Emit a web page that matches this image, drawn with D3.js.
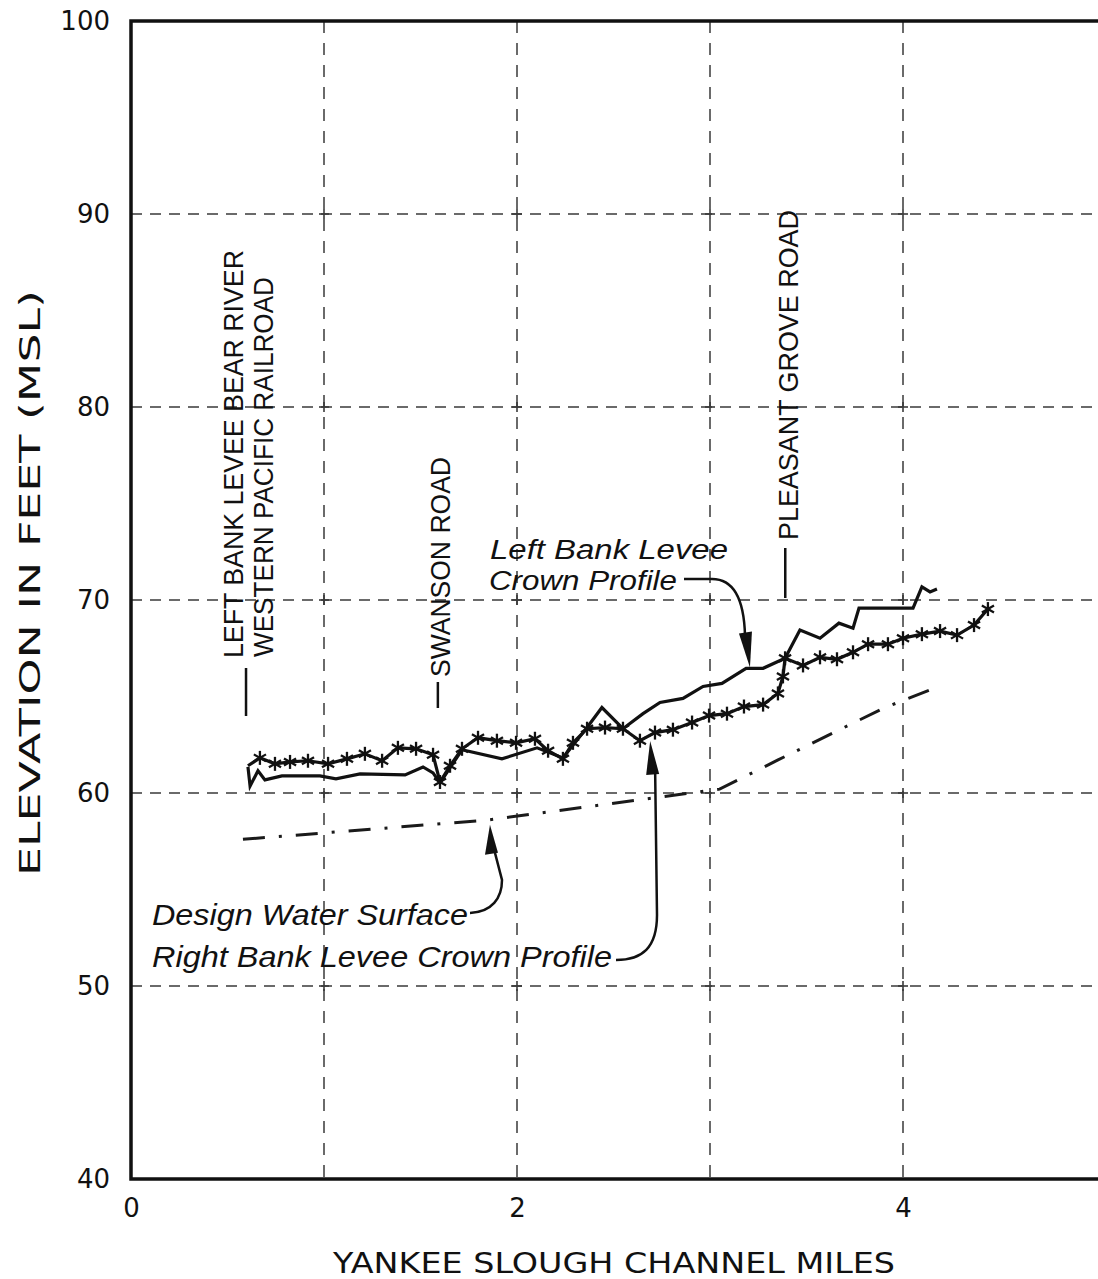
<!DOCTYPE html>
<html>
<head>
<meta charset="utf-8">
<script src="https://cdn.jsdelivr.net/npm/d3@7"></script>
<style>
  html, body { margin: 0; padding: 0; background: #fff; }
  svg { display: block; }
</style>
</head>
<body>
<svg id="chart" width="1098" height="1279"></svg>
<script>
// ---------------- DATA ----------------
const xTickValues = [0, 2, 4];
const xTickLabels = ["0", "2", "4"];
const yTickValues = [40, 50, 60, 70, 80, 90, 100];
const yTickLabels = ["40", "50", "60", "70", "80", "90", "100"];
const xGrid = [1, 2, 3, 4];
const yGrid = [50, 60, 70, 80, 90];

// Left Bank Levee Crown Profile (plain line): miles
const leftMiles = [0.606, 0.617, 0.658, 0.694, 0.782, 0.979, 1.062, 1.187, 1.420, 1.513, 1.565, 1.601,
  1.715, 1.922, 2.104, 2.238, 2.363, 2.440, 2.549, 2.653, 2.741, 2.860, 2.964, 3.062, 3.187, 3.275,
  3.389, 3.466, 3.570, 3.668, 3.741, 3.772, 4.052, 4.098, 4.140, 4.176];
const leftElev = [61.35, 60.36, 61.15, 60.68, 60.89, 60.89, 60.73, 60.99, 60.94, 61.35, 61.04, 60.52,
  62.24, 61.77, 62.34, 61.82, 63.39, 64.43, 63.33, 64.11, 64.69, 64.90, 65.52, 65.68, 66.46, 66.46,
  66.98, 68.44, 68.02, 68.80, 68.54, 69.58, 69.58, 70.68, 70.42, 70.57];

// Right Bank Levee Crown Profile (starred line)
const rightMiles = [0.606, 0.668, 0.746, 0.824, 0.917, 1.021, 1.119, 1.212, 1.301, 1.383, 1.477, 1.565,
  1.601, 1.653, 1.715, 1.798, 1.896, 1.995, 2.093, 2.161, 2.238, 2.290, 2.363, 2.456, 2.549, 2.637,
  2.715, 2.808, 2.907, 2.995, 3.088, 3.176, 3.275, 3.352, 3.378, 3.389, 3.482, 3.570, 3.658, 3.741,
  3.819, 3.922, 4.000, 4.098, 4.192, 4.280, 4.368, 4.440];
const rightElev = [61.41, 61.82, 61.51, 61.61, 61.67, 61.51, 61.77, 62.03, 61.67, 62.34, 62.29, 61.98,
  60.57, 61.41, 62.29, 62.86, 62.71, 62.60, 62.81, 62.19, 61.77, 62.60, 63.33, 63.39, 63.33, 62.71,
  63.13, 63.28, 63.65, 64.01, 64.11, 64.48, 64.58, 65.16, 66.04, 66.98, 66.61, 67.03, 66.93, 67.29,
  67.71, 67.71, 68.02, 68.23, 68.39, 68.18, 68.70, 69.53];

// Design Water Surface (dash-dot)
const designMiles = [0.58, 1.85, 2.45, 3.05, 3.35, 3.90, 4.18];
const designElev  = [57.6, 58.6, 59.4, 60.2, 61.7, 64.4, 65.5];

// Landmarks (mile positions)
const landmarkNames = ["LEFT BANK LEVEE BEAR RIVER", "WESTERN PACIFIC RAILROAD", "SWANSON ROAD", "PLEASANT GROVE ROAD"];
const landmarkMiles = [0.596, 0.596, 1.59, 3.39];

const xTitle = "YANKEE SLOUGH CHANNEL MILES";
const yTitle = "ELEVATION IN FEET (MSL)";

// ---------------- CHART ----------------
const svg = d3.select("#chart");
const x = d3.scaleLinear().domain([0, 5]).range([131, 1096]);
const y = d3.scaleLinear().domain([40, 100]).range([1179, 21]);

const gridColor = "#3a3a3a";
// grid
svg.append("g").selectAll("line").data(yGrid).join("line")
  .attr("x1", x(0)).attr("x2", 1098)
  .attr("y1", d => y(d)).attr("y2", d => y(d))
  .attr("stroke", gridColor).attr("stroke-width", 1.7)
  .attr("stroke-dasharray", "11,8");
svg.append("g").selectAll("line").data(xGrid).join("line")
  .attr("x1", d => x(d)).attr("x2", d => x(d))
  .attr("y1", y(100)).attr("y2", y(40))
  .attr("stroke", gridColor).attr("stroke-width", 1.5)
  .attr("stroke-dasharray", "12,10");
// small crosses at intersections
const crosses = [];
xGrid.forEach(gx => yGrid.forEach(gy => crosses.push([gx, gy])));
const cg = svg.append("g").attr("stroke", gridColor).attr("stroke-width", 1.6);
crosses.forEach(([gx, gy]) => {
  cg.append("line").attr("x1", x(gx) - 5).attr("x2", x(gx) + 5).attr("y1", y(gy)).attr("y2", y(gy));
  cg.append("line").attr("x1", x(gx)).attr("x2", x(gx)).attr("y1", y(gy) - 5).attr("y2", y(gy) + 5);
});

// frame
svg.append("path")
  .attr("d", `M1098,${y(100)} H${x(0)} V${y(40)} H1098`)
  .attr("fill", "none").attr("stroke", "#111").attr("stroke-width", 3.5);

// axes
const tickFont = "'DejaVu Sans', sans-serif";
const yAxis = d3.axisLeft(y).tickValues(yTickValues)
  .tickFormat((d, i) => yTickLabels[i]).tickSize(0).tickPadding(21);
const gy = svg.append("g").attr("transform", `translate(${x(0)},0)`).call(yAxis);
gy.select(".domain").remove();
gy.selectAll("text").attr("font-family", tickFont).attr("font-size", 26).attr("fill", "#111");

const xAxis = d3.axisBottom(x).tickValues(xTickValues)
  .tickFormat((d, i) => xTickLabels[i]).tickSize(0).tickPadding(20);
const gx = svg.append("g").attr("transform", `translate(0,${y(40)})`).call(xAxis);
gx.select(".domain").remove();
gx.selectAll("text").attr("font-family", tickFont).attr("font-size", 26).attr("fill", "#111");

// axis titles
svg.append("text").attr("x", 333).attr("y", 1273)
  .attr("font-family", tickFont).attr("font-size", 28).attr("fill", "#111")
  .attr("textLength", 562).attr("lengthAdjust", "spacingAndGlyphs")
  .text(xTitle);
svg.append("text").attr("transform", "translate(40,876) rotate(-90)")
  .attr("font-family", tickFont).attr("font-size", 28).attr("fill", "#111")
  .attr("textLength", 586).attr("lengthAdjust", "spacingAndGlyphs")
  .text(yTitle);

// lines
const line = d3.line().x(d => x(d[0])).y(d => y(d[1]));
const leftData = leftMiles.map((m, i) => [m, leftElev[i]]);
const rightData = rightMiles.map((m, i) => [m, rightElev[i]]);
const designData = designMiles.map((m, i) => [m, designElev[i]]);

svg.append("path").datum(designData).attr("d", line)
  .attr("fill", "none").attr("stroke", "#1a1a1a").attr("stroke-width", 3)
  .attr("stroke-dasharray", "22,14,3,14");

svg.append("path").datum(leftData).attr("d", line)
  .attr("fill", "none").attr("stroke", "#111").attr("stroke-width", 3.2)
  .attr("stroke-linejoin", "miter");

svg.append("path").datum(rightData).attr("d", line)
  .attr("fill", "none").attr("stroke", "#111").attr("stroke-width", 3.2)
  .attr("stroke-linejoin", "miter");

// star markers
const starG = svg.append("g").attr("stroke", "#111").attr("stroke-width", 2.3);
rightData.slice(1).forEach(d => {
  const cx = x(d[0]), cy = y(d[1]), r = 7;
  [90, 30, 150].forEach(a => {
    const rad = a * Math.PI / 180;
    starG.append("line")
      .attr("x1", cx - r * Math.cos(rad)).attr("y1", cy - r * Math.sin(rad))
      .attr("x2", cx + r * Math.cos(rad)).attr("y2", cy + r * Math.sin(rad));
  });
});

// landmark labels
const labFont = "'Liberation Sans', Arial, sans-serif";
const lm = [
  { i: 0, bx: 243, by: 658, len: 408, fs: 27 },
  { i: 1, bx: 273, by: 657, len: 380, fs: 27 },
  { i: 2, bx: 450, by: 677, len: 220, fs: 27 },
  { i: 3, bx: 798, by: 540, len: 330, fs: 27 }
];
lm.forEach(o => {
  svg.append("text")
    .attr("transform", `translate(${o.bx},${o.by}) rotate(-90)`)
    .attr("font-family", labFont).attr("font-size", o.fs).attr("fill", "#111")
    .attr("textLength", o.len).attr("lengthAdjust", "spacingAndGlyphs")
    .text(landmarkNames[o.i]);
});
// landmark tick lines
const lmLines = [
  { i: 0, y1: 668, y2: 716 },
  { i: 2, y1: 682, y2: 708 },
  { i: 3, y1: 548, y2: 598 }
];
lmLines.forEach(o => {
  svg.append("line")
    .attr("x1", x(landmarkMiles[o.i])).attr("x2", x(landmarkMiles[o.i]))
    .attr("y1", o.y1).attr("y2", o.y2)
    .attr("stroke", "#111").attr("stroke-width", 2.5);
});

// italic series labels
const itFont = "'Liberation Sans', Arial, sans-serif";
function itText(t, xx, yy, len, fs) {
  svg.append("text").attr("x", xx).attr("y", yy)
    .attr("font-family", itFont).attr("font-style", "italic").attr("font-size", fs)
    .attr("fill", "#111").attr("textLength", len).attr("lengthAdjust", "spacingAndGlyphs")
    .text(t);
}
itText("Left Bank Levee", 490, 559, 238, 27);
itText("Crown Profile", 489, 590, 188, 27);
itText("Design Water Surface", 152, 925, 316, 30);
itText("Right Bank Levee Crown Profile", 152, 967, 460, 30);

// leaders + arrowheads
const leaderG = svg.append("g");
function leader(pathD, tip, baseL, baseR) {
  leaderG.append("path").attr("d", pathD).attr("fill", "none")
    .attr("stroke", "#111").attr("stroke-width", 2.5);
  leaderG.append("path")
    .attr("d", `M${baseL[0]},${baseL[1]} L${tip[0]},${tip[1]} L${baseR[0]},${baseR[1]} Z`)
    .attr("fill", "#111");
}
// Left bank arrow (tip on left bank line)
{
  const tx = x(3.207), ty = y(66.5);
  leader(`M684,579 H712 C733,579 744,598 745,${ty - 32}`, [tx, ty], [tx - 11, ty - 34], [tx + 2, ty - 36]);
}
// Design water surface arrow
{
  const tx = x(1.86), ty = y(58.35);
  leader(`M470,913 C492,912 502,898 502,880 L${tx + 5},${ty + 28}`, [tx, ty], [tx - 5, ty + 30], [tx + 8, ty + 28]);
}
// Right bank arrow
{
  const tx = x(2.69), ty = y(62.7);
  leader(`M616,960 C642,960 657,948 657,915 L${tx + 5},${ty + 32}`, [tx, ty], [tx - 4, ty + 34], [tx + 9, ty + 33]);
}
</script>
</body>
</html>
